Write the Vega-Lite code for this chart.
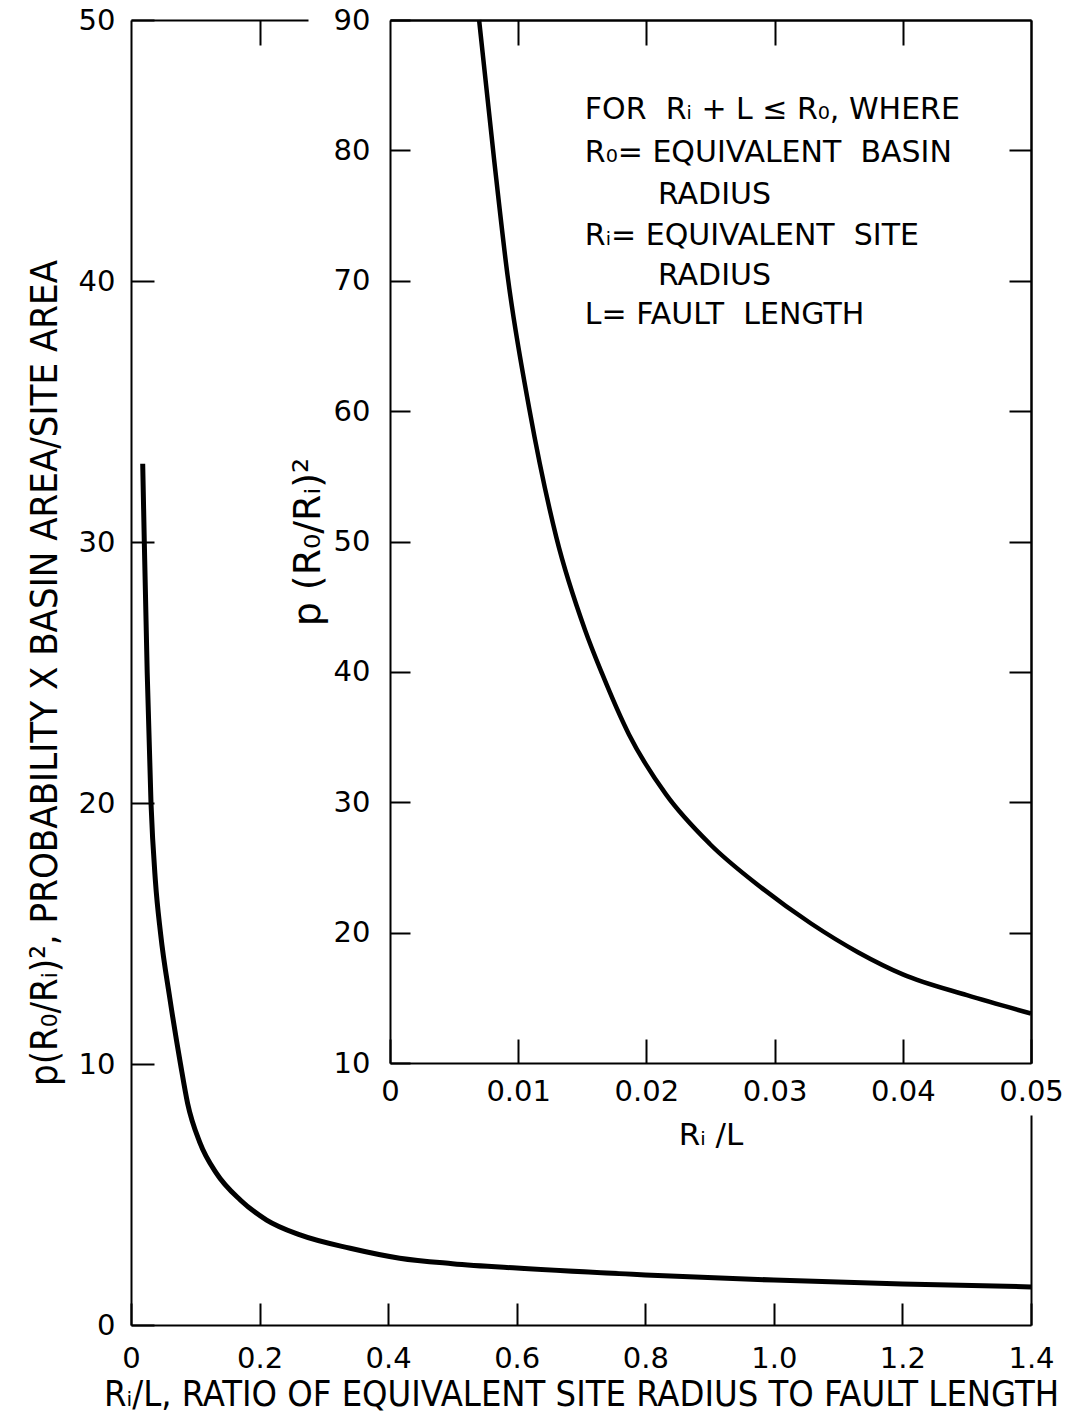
{
  "$schema": "https://vega.github.io/schema/vega-lite/v6.json",
  "width": 900,
  "height": 1305,
  "autosize": {"type": "none"},
  "padding": {"left": 131, "top": 20, "right": 44, "bottom": 97},
  "background": "white",
  "config": {
    "view": {"stroke": null},
    "axis": {
      "grid": false,
      "domainColor": "black",
      "domainWidth": 2,
      "tickColor": "black",
      "tickWidth": 2,
      "labelColor": "black",
      "titleColor": "black",
      "labelFont": "DejaVu Sans",
      "labelFontSize": 29,
      "titleFont": "Liberation Sans Narrow, DejaVu Sans Condensed, sans-serif",
      "titleFontSize": 36,
      "titleFontWeight": "normal",
      "labelOverlap": false,
      "labelFlush": false,
      "labelBound": false
    }
  },
  "datasets": {
    "main": [
      {"x": 0.0182, "y": 33.0},
      {"x": 0.0207, "y": 30.0},
      {"x": 0.0252, "y": 25.0},
      {"x": 0.0311, "y": 20.0},
      {"x": 0.038, "y": 17.0},
      {"x": 0.046, "y": 15.0},
      {"x": 0.0605, "y": 12.5},
      {"x": 0.077, "y": 10.0},
      {"x": 0.088, "y": 8.5},
      {"x": 0.107, "y": 7.0},
      {"x": 0.133, "y": 5.81},
      {"x": 0.17, "y": 4.79},
      {"x": 0.211, "y": 4.02},
      {"x": 0.263, "y": 3.45},
      {"x": 0.341, "y": 2.94},
      {"x": 0.418, "y": 2.56},
      {"x": 0.5, "y": 2.35},
      {"x": 0.6, "y": 2.18},
      {"x": 0.8, "y": 1.92},
      {"x": 1.0, "y": 1.72},
      {"x": 1.2, "y": 1.57},
      {"x": 1.4, "y": 1.46}
    ],
    "inset": [
      {"x": 0.00695, "y": 90},
      {"x": 0.00812, "y": 79.3},
      {"x": 0.00917, "y": 70.4},
      {"x": 0.01088, "y": 60.1},
      {"x": 0.01298, "y": 50.3},
      {"x": 0.01522, "y": 43.2},
      {"x": 0.01653, "y": 39.9},
      {"x": 0.01864, "y": 35.2},
      {"x": 0.02153, "y": 30.6},
      {"x": 0.02495, "y": 26.8},
      {"x": 0.0289, "y": 23.5},
      {"x": 0.03284, "y": 20.7},
      {"x": 0.0365, "y": 18.5},
      {"x": 0.04, "y": 16.8},
      {"x": 0.045, "y": 15.2},
      {"x": 0.05, "y": 13.8}
    ],
    "notes": [
      {"text": "FOR\u00a0 Rᵢ + L ≤ R₀, WHERE", "x": 0.0152, "y": 83.1},
      {"text": "R₀= EQUIVALENT\u00a0 BASIN", "x": 0.0152, "y": 79.8},
      {"text": "RADIUS", "x": 0.0209, "y": 76.6},
      {"text": "Rᵢ= EQUIVALENT\u00a0 SITE", "x": 0.0152, "y": 73.4},
      {"text": "RADIUS", "x": 0.0209, "y": 70.4},
      {"text": "L= FAULT\u00a0 LENGTH", "x": 0.0152, "y": 67.4}
    ]
  },
  "layer": [
    {
      "data": {"name": "main"},
      "mark": {"type": "line", "color": "black", "strokeWidth": 5, "interpolate": "monotone"},
      "encoding": {
        "x": {
          "field": "x", "type": "quantitative",
          "scale": {"domain": [0, 1.4], "nice": false, "zero": false},
          "axis": {
            "orient": "bottom",
            "values": [0, 0.2, 0.4, 0.6, 0.8, 1.0, 1.2, 1.4],
            "labelExpr": "datum.value == 0 ? '0' : format(datum.value, '.1f')",
            "tickSize": -22,
            "labelPadding": 41,
            "title": "Rᵢ/L, RATIO OF EQUIVALENT SITE RADIUS TO FAULT LENGTH",
            "titlePadding": 4
          }
        },
        "y": {
          "field": "y", "type": "quantitative",
          "scale": {"domain": [0, 50], "nice": false, "zero": false},
          "axis": {
            "orient": "left",
            "values": [0, 10, 20, 30, 40, 50],
            "tickSize": -23,
            "labelPadding": 39,
            "title": "p(R₀/Rᵢ)², PROBABILITY X BASIN AREA/SITE AREA",
            "titleFontSize": 38,
            "titlePadding": 14
          }
        }
      }
    },
    {
      "data": {"name": "main"},
      "mark": {"type": "line", "color": "black", "strokeWidth": 5, "strokeOpacity": 0},
      "encoding": {
        "x": {
          "field": "x", "type": "quantitative",
          "scale": {"domain": [0, 1.4], "nice": false, "zero": false},
          "axis": {
            "orient": "top",
            "values": [0.2],
            "labels": false,
            "tickSize": -25,
            "title": null,
            "domainDash": [177, 82, 1000, 0]
          }
        },
        "y": {
          "field": "y", "type": "quantitative",
          "scale": {"domain": [0, 50], "nice": false, "zero": false},
          "axis": {
            "orient": "right",
            "ticks": false,
            "labels": false,
            "title": null,
            "domainDash": [210, 52, 1200, 0]
          }
        }
      }
    },
    {
      "data": {"name": "inset"},
      "mark": {"type": "line", "color": "black", "strokeWidth": 4.5, "interpolate": "monotone"},
      "encoding": {
        "x": {
          "field": "x", "type": "quantitative",
          "scale": {"domain": [0, 0.05], "range": [259, 900], "nice": false, "zero": false},
          "axis": {
            "orient": "bottom",
            "offset": -262,
            "values": [0, 0.01, 0.02, 0.03, 0.04, 0.05],
            "labelExpr": "datum.value == 0 ? '0' : format(datum.value, '.2f')",
            "tickSize": -24,
            "labelPadding": 38,
            "title": "Rᵢ /L",
            "titleFont": "DejaVu Sans",
            "titleFontSize": 31,
            "titlePadding": 14
          }
        },
        "y": {
          "field": "y", "type": "quantitative",
          "scale": {"domain": [10, 90], "range": [1043, 0], "nice": false, "zero": false},
          "axis": {
            "orient": "left",
            "offset": -259,
            "values": [10, 20, 30, 40, 50, 60, 70, 80, 90],
            "tickSize": -20,
            "labelPadding": 40,
            "title": "p\u00a0(R₀/Rᵢ)²",
            "titleFont": "DejaVu Sans",
            "titleFontSize": 38,
            "titlePadding": 6
          }
        }
      }
    },
    {
      "data": {"name": "inset"},
      "mark": {"type": "line", "color": "black", "strokeWidth": 4.5, "strokeOpacity": 0},
      "encoding": {
        "x": {
          "field": "x", "type": "quantitative",
          "scale": {"domain": [0, 0.05], "range": [259, 900], "nice": false, "zero": false},
          "axis": {
            "orient": "top",
            "values": [0.01, 0.02, 0.03, 0.04],
            "labels": false,
            "tickSize": -25,
            "title": null
          }
        },
        "y": {
          "field": "y", "type": "quantitative",
          "scale": {"domain": [10, 90], "range": [1043, 0], "nice": false, "zero": false},
          "axis": {
            "orient": "right",
            "values": [20, 30, 40, 50, 60, 70, 80],
            "labels": false,
            "tickSize": -22,
            "title": null
          }
        }
      }
    },
    {
      "data": {"name": "notes"},
      "mark": {"type": "text", "align": "left", "baseline": "middle", "font": "DejaVu Sans", "fontSize": 30, "color": "black"},
      "encoding": {
        "x": {"field": "x", "type": "quantitative", "scale": {"domain": [0, 0.05], "range": [259, 900], "nice": false, "zero": false}, "axis": null},
        "y": {"field": "y", "type": "quantitative", "scale": {"domain": [10, 90], "range": [1043, 0], "nice": false, "zero": false}, "axis": null},
        "text": {"field": "text"}
      }
    }
  ],
  "resolve": {
    "scale": {"x": "independent", "y": "independent"},
    "axis": {"x": "independent", "y": "independent"}
  }
}
